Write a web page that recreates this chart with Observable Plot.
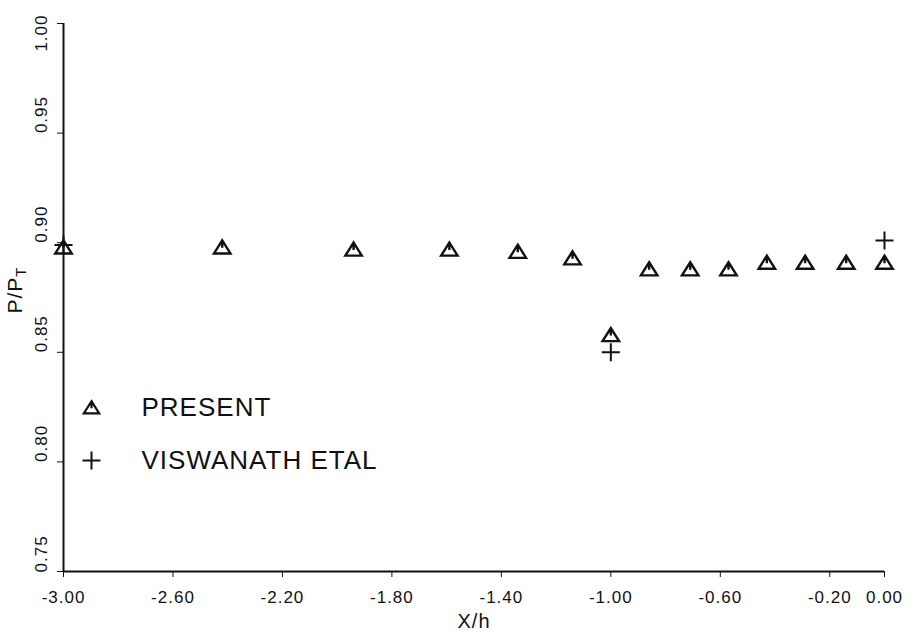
<!DOCTYPE html>
<html>
<head>
<meta charset="utf-8">
<script src="https://cdn.jsdelivr.net/npm/d3@7"></script>
<script src="https://cdn.jsdelivr.net/npm/@observablehq/plot@0.6"></script>
<style>
  html, body { margin: 0; padding: 0; background: #fff; }
  #chart svg { display: block; }
</style>
</head>
<body>
<div id="chart"></div>
<script>
// Data
const presentX = [-3.00, -2.42, -1.94, -1.59, -1.34, -1.14, -1.00, -0.86, -0.71, -0.57, -0.43, -0.29, -0.14, 0.00];
const presentY = [0.898, 0.898, 0.897, 0.897, 0.896, 0.893, 0.858, 0.888, 0.888, 0.888, 0.891, 0.891, 0.891, 0.891];
const viswX = [-3.00, -1.00, 0.00];
const viswY = [0.899, 0.850, 0.901];
const xTicks = [-3.00, -2.60, -2.20, -1.80, -1.40, -1.00, -0.60, -0.20, 0.00];
const yTicks = [0.75, 0.80, 0.85, 0.90, 0.95, 1.00];
const legendLabels = ["PRESENT", "VISWANATH ETAL"];
const xLabel = "X/h";

const present = presentX.map((x, i) => ({x, y: presentY[i]}));
const visw = viswX.map((x, i) => ({x, y: viswY[i]}));
const yMin = yTicks[0], yMax = yTicks[yTicks.length - 1];
const yMid = yTicks.slice(1, -1);

// Custom symbols: open triangle with a small inner stroke, and a plus
const triSym = {
  draw(ctx, size) {
    const r = Math.sqrt(size / Math.PI);
    ctx.moveTo(0, -0.9 * r);
    ctx.lineTo(1.1 * r, 0.85 * r);
    ctx.lineTo(-1.1 * r, 0.85 * r);
    ctx.closePath();
    ctx.moveTo(0, -0.9 * r);
    ctx.lineTo(0, 0.1 * r);
  }
};
const plusSym = {
  draw(ctx, size) {
    const r = Math.sqrt(size / Math.PI);
    ctx.moveTo(-r, 0); ctx.lineTo(r, 0);
    ctx.moveTo(0, -r); ctx.lineTo(0, r);
  }
};

const font = "'Liberation Sans', Arial, sans-serif";
const ink = "#111";

const chart = Plot.plot({
  width: 917,
  height: 635,
  marginLeft: 63,
  marginRight: 33,
  marginTop: 23,
  marginBottom: 64,
  style: {fontFamily: font, fontSize: "17px", color: ink, background: "#fff"},
  x: {domain: [-3, 0], ticks: xTicks, tickFormat: d => d.toFixed(2), tickSize: 6, tickPadding: 13, label: null},
  y: {domain: [0.75, 1.0], ticks: yTicks, tickSize: 6, tickFormat: () => "", label: null},
  marks: [
    Plot.ruleX([-3], {stroke: ink, strokeWidth: 2}),
    Plot.ruleY([0.75], {stroke: ink, strokeWidth: 2}),
    // y tick labels (rotated)
    Plot.text(yMid, {y: d => d, frameAnchor: "left", dx: -22, rotate: -90, text: d => d.toFixed(2), fontSize: 17, fill: ink}),
    Plot.text([yMax], {y: d => d, frameAnchor: "left", dx: -22, dy: -9, rotate: -90, textAnchor: "end", text: d => d.toFixed(2), fontSize: 17, fill: ink}),
    Plot.text([yMin], {y: d => d, frameAnchor: "left", dx: -22, dy: 1, rotate: -90, textAnchor: "start", text: d => d.toFixed(2), fontSize: 17, fill: ink}),
    // x label
    Plot.text([xLabel], {frameAnchor: "bottom", dy: 50, lineAnchor: "middle", text: d => d, fontSize: 20, fill: ink}),
    // data
    Plot.dot(present, {x: "x", y: "y", symbol: triSym, r: 7.5, fill: "none", stroke: ink, strokeWidth: 2.4}),
    Plot.dot(visw, {x: "x", y: "y", symbol: plusSym, r: 9, fill: "none", stroke: ink, strokeWidth: 2}),
    // legend
    Plot.dot([legendLabels[0]], {frameAnchor: "top-left", dx: 28, dy: 384, symbol: triSym, r: 7, fill: "none", stroke: ink, strokeWidth: 2.2}),
    Plot.dot([legendLabels[1]], {frameAnchor: "top-left", dx: 28, dy: 437, symbol: plusSym, r: 9, fill: "none", stroke: ink, strokeWidth: 2}),
    Plot.text([legendLabels[0]], {frameAnchor: "top-left", dx: 78, dy: 384, lineAnchor: "middle", text: d => d, textAnchor: "start", fontSize: 26, fill: ink}),
    Plot.text([legendLabels[1]], {frameAnchor: "top-left", dx: 78, dy: 437, lineAnchor: "middle", text: d => d, textAnchor: "start", fontSize: 26, fill: ink})
  ]
});

// Y-axis label with subscript
const svg = d3.select(chart.tagName.toLowerCase() === "svg" ? chart : chart.querySelector("svg"));
svg.selectAll("text").style("letter-spacing", "1px");
const yl = svg.append("text")
  .attr("transform", "translate(16,290) rotate(-90)")
  .attr("text-anchor", "middle")
  .attr("dominant-baseline", "middle")
  .attr("font-family", font)
  .attr("font-size", 21)
  .attr("fill", ink)
  .style("letter-spacing", "1px");
yl.append("tspan").text("P/P");
yl.append("tspan").attr("font-size", 15).attr("dy", "0.4em").text("T");
document.getElementById("chart").appendChild(chart);
</script>
</body>
</html>
